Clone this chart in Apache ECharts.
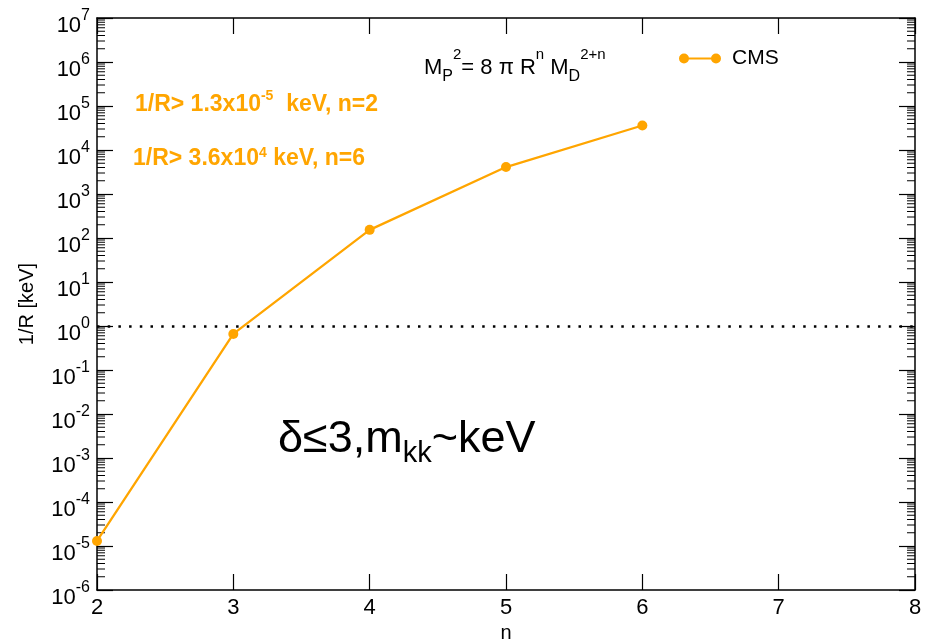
<!DOCTYPE html>
<html>
<head>
<meta charset="utf-8">
<script src="https://cdn.jsdelivr.net/npm/echarts@6/dist/echarts.min.js"></script>
<style>
html,body{margin:0;padding:0;background:#fff;}
#chart{width:934px;height:640px;}
</style>
</head>
<body>
<div id="chart"></div>
<script>
// ---- data ----
const xTicks = [2, 3, 4, 5, 6, 7, 8];
const yTickExponents = [-6, -5, -4, -3, -2, -1, 0, 1, 2, 3, 4, 5, 6, 7];
const minorMantissas = [2, 3, 4, 5, 6, 7, 8, 9];
const nValues = [2, 3, 4, 5, 6];
const cmsLimit = [1.3e-5, 0.66, 153, 4100, 3.6e4];
const referenceLevel = 1;

const ORANGE = '#FFA500';
const FONT = 'Liberation Sans, Arial, sans-serif';

const xMin = xTicks[0], xMax = xTicks[xTicks.length - 1];
const yMin = Math.pow(10, yTickExponents[0]);
const yMax = Math.pow(10, yTickExponents[yTickExponents.length - 1]);

const minorTickData = [];
for (let i = 0; i < yTickExponents.length - 1; i++) {
  for (const m of minorMantissas) {
    minorTickData.push([xMin, m * Math.pow(10, yTickExponents[i])]);
  }
}

const chart = echarts.init(document.getElementById('chart'), null, {renderer: 'canvas'});

const yLabelRich = {
  b: {fontSize: 22, lineHeight: 22, fontFamily: FONT, color: '#000', verticalAlign: 'bottom'},
  e: {fontSize: 16, lineHeight: 15, fontFamily: FONT, color: '#000', verticalAlign: 'bottom', padding: [0, 0, 13, 0]}
};

const option = {
  backgroundColor: '#fff',
  animation: false,
  grid: {left: 97, right: 19, top: 18, bottom: 50, containLabel: false, outerBoundsMode: 'none'},
  legend: {
    data: ['CMS'],
    left: 679, top: 48, padding: 0,
    itemWidth: 42, itemHeight: 10,
    icon: 'path://M0,5A5,5,0,1,1,10,5A5,5,0,1,1,0,5Z M32,5A5,5,0,1,1,42,5A5,5,0,1,1,32,5Z M5,3.9H37V6.1H5Z',
    textStyle: {fontSize: 21, color: '#000', fontFamily: FONT, padding: [0, 0, 0, 6]}
  },
  xAxis: [{
    type: 'value', min: xMin, max: xMax, interval: 1,
    name: 'n', nameLocation: 'middle', nameGap: 25,
    nameTextStyle: {fontSize: 20, color: '#000', fontFamily: FONT},
    axisLine: {show: true, onZero: false, lineStyle: {color: '#000', width: 1.5}},
    axisTick: {show: true, inside: true, length: 16, lineStyle: {color: '#000', width: 1.2}},
    axisLabel: {show: true, margin: 7, fontSize: 22, color: '#000', fontFamily: FONT},
    splitLine: {show: false}
  }, {
    type: 'value', min: xMin, max: xMax, interval: 1, position: 'top',
    axisLine: {show: true, onZero: false, lineStyle: {color: '#000', width: 1.5}},
    axisTick: {show: true, inside: true, length: 16, lineStyle: {color: '#000', width: 1.2}},
    axisLabel: {show: false}, splitLine: {show: false}
  }],
  yAxis: [{
    type: 'log', logBase: 10, min: yMin, max: yMax, interval: 1,
    name: '1/R [keV]', nameLocation: 'middle', nameGap: 60,
    nameTextStyle: {fontSize: 20, color: '#000', fontFamily: FONT},
    axisLine: {show: true, onZero: false, lineStyle: {color: '#000', width: 1.5}},
    axisTick: {show: true, inside: true, length: 16, lineStyle: {color: '#000', width: 1.2}},
    axisLabel: {
      show: true, margin: 7, padding: [15, 0, 0, 0],
      formatter: function (v) {
        const e = Math.round(Math.log10(v));
        if (yTickExponents.indexOf(e) < 0) return '';
        return '{b|10}{e|' + e + '}';
      },
      rich: yLabelRich
    },
    splitLine: {show: false}
  }, {
    type: 'log', logBase: 10, min: yMin, max: yMax, interval: 1, position: 'right',
    axisLine: {show: true, onZero: false, lineStyle: {color: '#000', width: 1.5}},
    axisTick: {show: true, inside: true, length: 16, lineStyle: {color: '#000', width: 1.2}},
    axisLabel: {show: false}, splitLine: {show: false}
  }],
  graphic: [
    {
      type: 'text', left: 135, top: 89,
      style: {
        text: '{t|1/R> 1.3x10}{s|-5}{t|  keV, n=2}',
        rich: {
          t: {fontSize: 23, fontWeight: 'bold', fontFamily: FONT, fill: ORANGE, lineHeight: 24, verticalAlign: 'bottom'},
          s: {fontSize: 14, fontWeight: 'bold', fontFamily: FONT, fill: ORANGE, lineHeight: 14, verticalAlign: 'bottom', padding: [0, 0, 13, 0]}
        }
      }
    },
    {
      type: 'text', left: 133, top: 146,
      style: {
        text: '{t|1/R> 3.6x10}{s|4}{t| keV, n=6}',
        rich: {
          t: {fontSize: 23, fontWeight: 'bold', fontFamily: FONT, fill: ORANGE, lineHeight: 24, verticalAlign: 'bottom'},
          s: {fontSize: 14, fontWeight: 'bold', fontFamily: FONT, fill: ORANGE, lineHeight: 14, verticalAlign: 'bottom', padding: [0, 0, 10, 0]}
        }
      }
    },
    {
      type: 'text', left: 424, top: 47,
      style: {
        text: '{m|M}{sub|P}{sup|2}{m|= 8 π R}{sup|n}{m| M}{sub|D}{sup|2+n}',
        rich: {
          m: {fontSize: 22, fontFamily: FONT, fill: '#000', lineHeight: 26, verticalAlign: 'bottom', padding: [0, 0, 6, 0]},
          sup: {fontSize: 15, fontFamily: FONT, fill: '#000', lineHeight: 15, verticalAlign: 'bottom', padding: [0, 0, 23, 0]},
          sub: {fontSize: 16, fontFamily: FONT, fill: '#000', lineHeight: 16, verticalAlign: 'bottom'}
        }
      }
    },
    {
      type: 'text', left: 278, top: 417,
      style: {
        text: '{m|δ≤3,m}{sub|kk}{m|~keV}',
        rich: {
          m: {fontSize: 45, fontFamily: FONT, fill: '#000', lineHeight: 48, verticalAlign: 'bottom', padding: [0, 0, 12, 0]},
          sub: {fontSize: 29, fontFamily: FONT, fill: '#000', lineHeight: 28, verticalAlign: 'bottom', padding: [0, 0, 6, 0]}
        }
      }
    }
  ],
  series: [
    {
      name: 'CMS', type: 'line',
      xAxisIndex: 0, yAxisIndex: 0,
      data: nValues.map((n, i) => [n, cmsLimit[i]]),
      color: ORANGE,
      symbol: 'circle', symbolSize: 10,
      lineStyle: {color: ORANGE, width: 2.3},
      itemStyle: {color: ORANGE},
      z: 5,
      markLine: {
        silent: true, symbol: ['none', 'none'],
        label: {show: false},
        lineStyle: {color: '#000', width: 2.5, type: [2.5, 8.2]},
        data: [{yAxis: referenceLevel}]
      }
    },
    {
      name: 'minorTicks', type: 'custom',
      xAxisIndex: 0, yAxisIndex: 0,
      silent: true,
      data: minorTickData,
      encode: {x: 0, y: 1},
      renderItem: function (params, api) {
        const v = api.value(1);
        const pl = api.coord([xMin, v]);
        const pr = api.coord([xMax, v]);
        return {
          type: 'group',
          children: [
            {type: 'line', shape: {x1: pl[0], y1: pl[1], x2: pl[0] + 8, y2: pl[1]}, style: {stroke: '#000', lineWidth: 1}},
            {type: 'line', shape: {x1: pr[0], y1: pr[1], x2: pr[0] - 8, y2: pr[1]}, style: {stroke: '#000', lineWidth: 1}}
          ]
        };
      }
    }
  ]
};

chart.setOption(option);
</script>
</body>
</html>
